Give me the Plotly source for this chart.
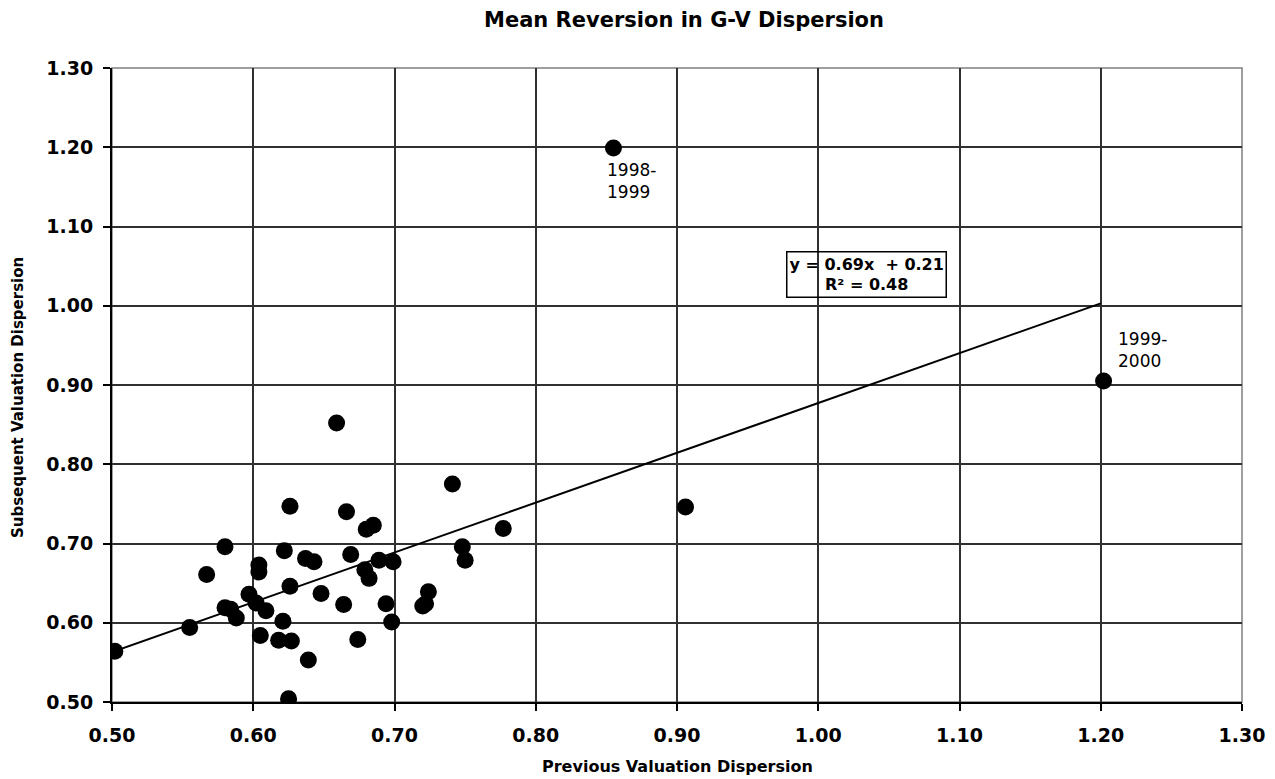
import plotly.graph_objects as go

# Data
prev_disp = [0.502, 0.555, 0.567, 0.580, 0.580, 0.584, 0.588, 0.597, 0.602, 0.604,
             0.604, 0.605, 0.609, 0.618, 0.621, 0.622, 0.625, 0.626, 0.626, 0.627,
             0.637, 0.643, 0.639, 0.648, 0.659, 0.664, 0.666, 0.669, 0.674, 0.679,
             0.682, 0.680, 0.685, 0.689, 0.694, 0.698, 0.699, 0.720, 0.722, 0.724,
             0.741, 0.748, 0.750, 0.777, 0.855, 0.906, 1.202]
subs_disp = [0.564, 0.594, 0.661, 0.696, 0.619, 0.617, 0.606, 0.636, 0.625, 0.673,
             0.664, 0.584, 0.615, 0.578, 0.602, 0.691, 0.504, 0.747, 0.646, 0.577,
             0.681, 0.677, 0.553, 0.637, 0.852, 0.623, 0.740, 0.686, 0.579, 0.667,
             0.656, 0.718, 0.723, 0.679, 0.624, 0.601, 0.677, 0.621, 0.624, 0.639,
             0.775, 0.696, 0.679, 0.719, 1.199, 0.746, 0.905]

trend_x = [0.50, 1.20]
trend_y = [0.563, 1.003]

tick_vals = [0.50, 0.60, 0.70, 0.80, 0.90, 1.00, 1.10, 1.20, 1.30]
tick_text = ["0.50", "0.60", "0.70", "0.80", "0.90", "1.00", "1.10", "1.20", "1.30"]

label_texts = ["1998-<br>1999", "1999-<br>2000"]
label_x = [0.849, 1.2105]
label_y = [1.157, 0.944]

eq_lines = ["y = 0.69x  + 0.21", "R² = 0.48"]

x_title = "Previous Valuation Dispersion"
y_title = "Subsequent Valuation Dispersion"
chart_title = "Mean Reversion in G-V Dispersion"

FONT = "DejaVu Sans, Liberation Sans, Arial, sans-serif"

# page body adds an 8px margin; figure is sized to fit inside the window
W, H = 1259, 771

fig = go.Figure()
fig.add_trace(go.Scatter(
    x=trend_x, y=trend_y, mode="lines",
    line=dict(color="black", width=2), hoverinfo="skip", showlegend=False))
fig.add_trace(go.Scatter(
    x=prev_disp, y=subs_disp, mode="markers",
    marker=dict(color="black", size=17, symbol="circle", line=dict(width=0)),
    showlegend=False))

for t, lx, ly in zip(label_texts, label_x, label_y):
    fig.add_annotation(x=lx, y=ly, xref="x", yref="y", text=t, showarrow=False,
                       xanchor="left", yanchor="middle", align="left",
                       font=dict(family=FONT, size=17, color="black"))

fig.add_annotation(x=1.034, y=1.040, xref="x", yref="y",
                   text="<br>".join("<b>" + s + "</b>" for s in eq_lines),
                   showarrow=False, xanchor="center", yanchor="middle", align="center",
                   font=dict(family=FONT, size=16, color="black"),
                   bordercolor="black", borderwidth=1.5, borderpad=2)

# axis titles
fig.add_annotation(x=0.5, y=-0.101, xref="paper", yref="paper",
                   text="<b>" + x_title + "</b>", showarrow=False,
                   xanchor="center", yanchor="middle",
                   font=dict(family=FONT, size=16, color="black"))
fig.add_annotation(x=-0.0832, y=0.481, xref="paper", yref="paper",
                   text="<b>" + y_title + "</b>", showarrow=False, textangle=-90,
                   xanchor="center", yanchor="middle",
                   font=dict(family=FONT, size=15, color="black"))

axis_common = dict(
    tickvals=tick_vals, ticktext=tick_text,
    showgrid=True, gridcolor="#303030", gridwidth=1.5,
    showline=True, linecolor="black", linewidth=2,
    ticks="outside", ticklen=7, tickcolor="black", tickwidth=1.5,
    zeroline=False, automargin=False,
    tickfont=dict(family=FONT, size=19, color="black", weight="bold"),
)

fig.update_xaxes(range=[0.50, 1.30], **axis_common, ticklabelstandoff=8)
fig.update_yaxes(range=[0.50, 1.30], **axis_common, ticklabelstandoff=6)

# outer border of plot area (top/right)
fig.add_shape(type="rect", xref="paper", yref="paper", x0=0, y0=0, x1=1, y1=1,
              line=dict(color="#808080", width=1.5), layer="below")

fig.update_layout(
    width=W, height=H,
    margin=dict(l=104, r=25, t=60, b=77, autoexpand=False),
    paper_bgcolor="white", plot_bgcolor="white",
    title=dict(text="<b>" + chart_title + "</b>", x=676/W, xanchor="center",
               xref="container", y=1 - 12/H, yanchor="middle", yref="container",
               font=dict(family=FONT, size=21, color="black")),
    font=dict(family=FONT, color="black"),
)

fig.write_html("out.html")
